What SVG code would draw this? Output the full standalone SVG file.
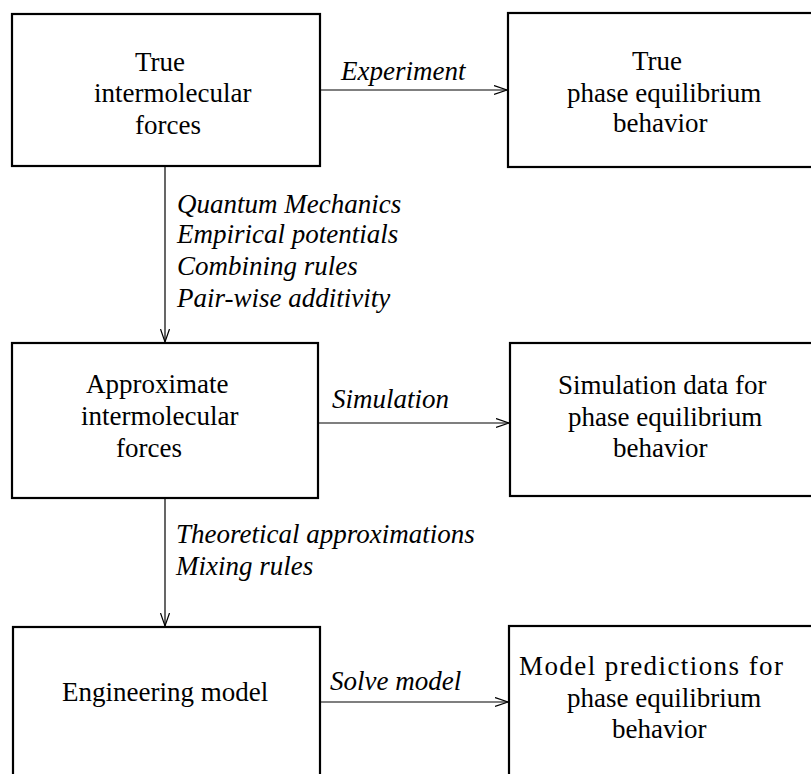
<svg xmlns="http://www.w3.org/2000/svg" width="811" height="774" viewBox="0 0 811 774">
<defs>
<style>
.box{fill:#fff;stroke:#000;stroke-width:2.2}
.c{stroke:#000;stroke-width:1.2;fill:none}
</style>
<marker id="arr" markerUnits="userSpaceOnUse" markerWidth="16" markerHeight="12" refX="13" refY="5" orient="auto">
<path d="M0,0.5 L13,5 L0,9.5" fill="none" stroke="#000" stroke-width="1.2"/>
</marker>
</defs>
<rect width="811" height="774" fill="#fff"/>
<g font-family="Liberation Serif, Times New Roman, serif" font-size="27" fill="#000">
<g id="n1">
<rect class="box" x="12" y="14" width="308" height="152"/>
<text x="135" y="71">True</text>
<text x="94" y="102">intermolecular</text>
<text x="135" y="134">forces</text>
</g>
<g id="n2">
<rect class="box" x="508" y="13" width="330" height="154"/>
<text x="632" y="70">True</text>
<text x="567" y="102">phase equilibrium</text>
<text x="613" y="132">behavior</text>
</g>
<g id="n3">
<rect class="box" x="12" y="343" width="306" height="155"/>
<text x="86" y="393">Approximate</text>
<text x="81" y="425">intermolecular</text>
<text x="116" y="457">forces</text>
</g>
<g id="n4">
<rect class="box" x="510" y="343" width="330" height="153"/>
<text x="558" y="394">Simulation data for</text>
<text x="568" y="426">phase equilibrium</text>
<text x="613" y="457">behavior</text>
</g>
<g id="n5">
<rect class="box" x="13" y="627" width="307" height="170"/>
<text x="62" y="701">Engineering model</text>
</g>
<g id="n6">
<rect class="box" x="509" y="626" width="330" height="170"/>
<text x="519" y="675" textLength="264" lengthAdjust="spacing">Model predictions for</text>
<text x="567" y="707">phase equilibrium</text>
<text x="612" y="738">behavior</text>
</g>
<g id="connectors" font-style="italic">
<line class="c" x1="321" y1="90" x2="507" y2="90" marker-end="url(#arr)"/>
<line class="c" x1="165" y1="167" x2="165" y2="342" marker-end="url(#arr)"/>
<line class="c" x1="319" y1="423" x2="509" y2="423" marker-end="url(#arr)"/>
<line class="c" x1="165" y1="499" x2="165" y2="626" marker-end="url(#arr)"/>
<line class="c" x1="321" y1="702" x2="508" y2="702" marker-end="url(#arr)"/>
<text x="341" y="80">Experiment</text>
<text x="177" y="213">Quantum Mechanics</text>
<text x="177" y="243">Empirical potentials</text>
<text x="177" y="275">Combining rules</text>
<text x="177" y="307">Pair-wise additivity</text>
<text x="332" y="408">Simulation</text>
<text x="176" y="543">Theoretical approximations</text>
<text x="176" y="575">Mixing rules</text>
<text x="330" y="690">Solve model</text>
</g>
</g>
</svg>
